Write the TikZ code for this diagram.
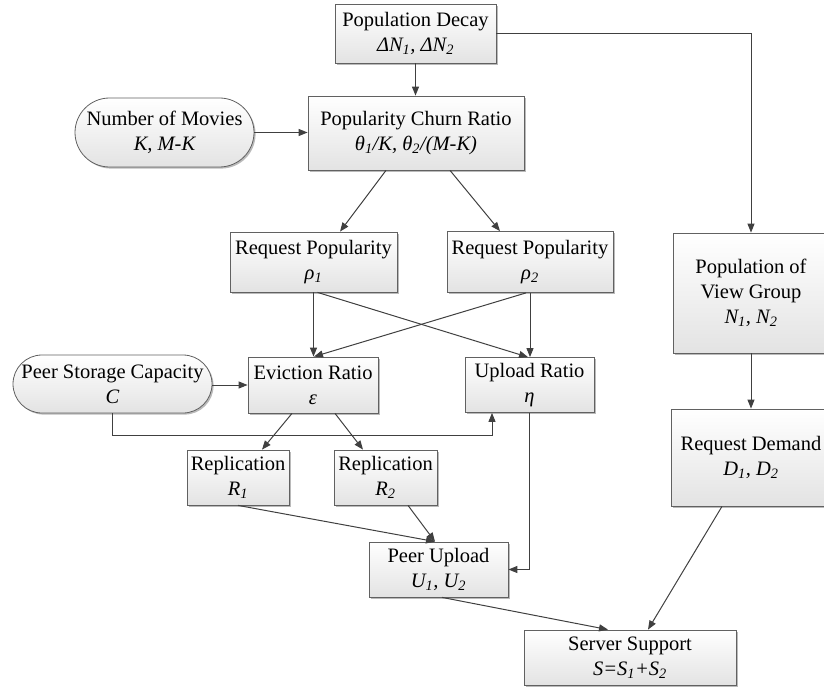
\documentclass[tikz,border=0pt]{standalone}
\usepackage{fontspec}
\setmainfont{Liberation Serif}
\usetikzlibrary{arrows.meta,shadows}
\newcommand\sbs[1]{\textsubscript{#1}}
\begin{document}
\begin{tikzpicture}[x=1pt,y=-1pt,
  every node/.style={font=\fontsize{20.5}{25}\selectfont, align=center, inner sep=0pt},
  box/.style={draw=black!62, line width=0.8pt, top color=white, bottom color=black!11,
    drop shadow={shadow xshift=1.6pt, shadow yshift=-1.6pt, fill=black!45, opacity=0.6}},
  pill/.style={box, rounded corners=#1},
  link/.style={draw=black!75, line width=1pt, -{Triangle[length=9pt,width=7pt]}},
  wire/.style={draw=black!75, line width=1pt}
]
\useasboundingbox (0,0) rectangle (824,687);

% boxes
\node[box, minimum width=161pt, minimum height=59pt] (decay) at (415.5,33.5)
  {Population Decay\\{\itshape ΔN\sbs{1}, ΔN\sbs{2}}};
\node[box, minimum width=216pt, minimum height=74pt] (churn) at (416,133)
  {Popularity Churn Ratio\\{\itshape θ\sbs{1}/K, θ\sbs{2}/(M-K)}};
\node[pill=34.5pt, minimum width=179pt, minimum height=69pt] (movies) at (164.5,132.5)
  {Number of Movies\\{\itshape K, M-K}};
\node[box, minimum width=167pt, minimum height=60pt] (rho1) at (313.5,262)
  {Request Popularity\\{\itshape ρ\sbs{1}}};
\node[box, minimum width=166pt, minimum height=61pt] (rho2) at (530,262)
  {Request Popularity\\{\itshape ρ\sbs{2}}};
\node[pill=29pt, minimum width=199pt, minimum height=58pt] (storage) at (112.5,384)
  {Peer Storage Capacity\\{\itshape C}};
\node[box, minimum width=130pt, minimum height=56pt] (evict) at (313,385)
  {Eviction Ratio\\{\itshape ε}};
\node[box, minimum width=129pt, minimum height=55pt] (upratio) at (529.5,385)
  {Upload Ratio\\{\itshape η}};
\node[box, minimum width=102pt, minimum height=55pt] (rep1) at (238,477.5)
  {Replication\\{\itshape R\sbs{1}}};
\node[box, minimum width=103pt, minimum height=55pt] (rep2) at (385.5,477.5)
  {Replication\\{\itshape R\sbs{2}}};
\node[box, minimum width=139pt, minimum height=55pt] (pupload) at (438.5,569.5)
  {Peer Upload\\{\itshape U\sbs{1}, U\sbs{2}}};
\node[box, minimum width=212pt, minimum height=55pt] (server) at (630,657.5)
  {Server Support\\{\itshape S=S\sbs{1}+S\sbs{2}}};
\node[box, minimum width=156pt, minimum height=120pt] (popview) at (751,293)
  {Population of\\View Group\\{\itshape N\sbs{1}, N\sbs{2}}};
\node[box, minimum width=160pt, minimum height=97pt] (reqdemand) at (751,457.5)
  {Request Demand\\{\itshape D\sbs{1}, D\sbs{2}}};

% connectors
\draw[link] (decay.south) -- (decay.south |- churn.north);
\draw[link] (decay.east) -| (popview.north);
\draw[link] (movies.east) -- (movies.east -| churn.west);
\draw[link] ([xshift=-30pt]churn.south) -- ([xshift=26.5pt]rho1.north);
\draw[link] ([xshift=34pt]churn.south) -- ([xshift=-30pt]rho2.north);
\draw[link] (rho1.south) -- (rho1.south |- evict.north);
\draw[link] ([xshift=4pt]rho1.south) -- ([xshift=-1.5pt]upratio.north);
\draw[link] (rho2.south) -- (rho2.south |- upratio.north);
\draw[link] ([xshift=-4pt]rho2.south) -- ([xshift=1pt]evict.north);
\draw[link] (storage.east |- evict.west) -- (evict.west);
\draw[link] (storage.south) -- ++(0,22) -| ([xshift=-37.5pt]upratio.south);
\draw[link] ([xshift=-21pt]evict.south) -- ([xshift=24pt]rep1.north);
\draw[link] ([xshift=22pt]evict.south) -- ([xshift=-22.5pt]rep2.north);
\draw[link] (rep1.south) -- ([xshift=-3.5pt]pupload.north);
\draw[link] ([xshift=22.5pt]rep2.south) -- ([xshift=-3.5pt]pupload.north);
\draw[link] (upratio.south) |- (pupload.east);
\draw[link] ([xshift=3.5pt]pupload.south) -- ([xshift=-22pt]server.north);
\draw[link] ([xshift=-29pt]reqdemand.south) -- ([xshift=18pt]server.north);
\draw[link] (popview.south) -- (reqdemand.north);
\end{tikzpicture}
\end{document}
